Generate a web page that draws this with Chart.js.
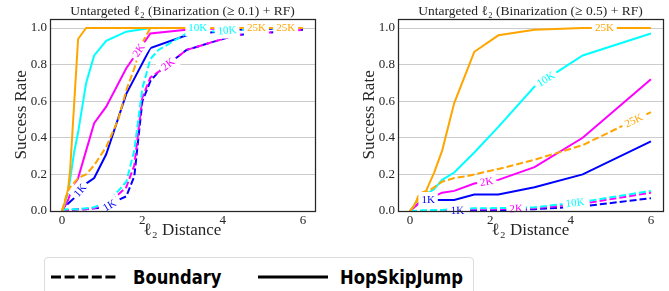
<!DOCTYPE html>
<html>
<head>
<meta charset="utf-8">
<script src="https://cdn.jsdelivr.net/npm/chart.js@4.4.1/dist/chart.umd.min.js"></script>
<style>
  html, body { margin: 0; padding: 0; background: #fff; }
  body { width: 669px; height: 291px; position: relative; overflow: hidden; }
  canvas { position: absolute; top: 0; }
  #chartA { left: 0; }
  #chartB { left: 330px; }
  .legend {
    position: absolute; left: 44px; top: 257px; width: 430px; height: 44px;
    border: 1px solid #dcdcdc; border-radius: 4px; box-sizing: border-box;
  }
  .legend svg { position: absolute; }
  .legend span {
    position: absolute; font-family: "DejaVu Sans", sans-serif; font-weight: bold;
    font-size: 19px; line-height: 19px; color: #000; white-space: nowrap;
    transform: scaleX(0.86); transform-origin: 0 0;
  }
</style>
</head>
<body>
<canvas id="chartA" width="330" height="245"></canvas>
<canvas id="chartB" width="339" height="245"></canvas>
<div class="legend">
  <svg style="left:5px; top:16px" width="70" height="6"><line x1="1" y1="3" x2="69" y2="3" stroke="#000" stroke-width="3" stroke-dasharray="10 3.6"/></svg>
  <span style="left:88px; top:10px">Boundary</span>
  <svg style="left:212px; top:16px" width="72" height="6"><line x1="1" y1="3" x2="71" y2="3" stroke="#000" stroke-width="3"/></svg>
  <span style="left:295px; top:10px">HopSkipJump</span>
</div>
<script>
// l2 distances where the success rate was measured
const hsjX = [0, 0.1, 0.15, 0.2, 0.3, 0.4, 0.6, 0.8, 1.1, 1.6, 2.2, 3.1, 4.3, 6.0];
const bndX = [0, 0.1, 0.2, 0.4, 0.6, 0.8, 1.1, 1.4, 1.6, 1.8, 2.0, 2.2, 2.4, 3.1, 4.3, 6.0];

const budgets = ['1K', '2K', '10K', '25K'];
const budgetColors = ['#0000ff', '#ff00ff', '#00ffff', '#ffa500'];

// Binarization (>= 0.1) + RF
const hsjA = [
  [0, 0.04, 0.04, 0.05, 0.07, 0.10, 0.15, 0.18, 0.31, 0.64, 0.89, 0.96, 0.99, 1.0],
  [0, 0.04, 0.06, 0.09, 0.13, 0.18, 0.33, 0.48, 0.57, 0.78, 0.97, 0.99, 1.0, 1.0],
  [0, 0.06, 0.10, 0.17, 0.32, 0.43, 0.70, 0.85, 0.93, 0.98, 1.0, 1.0, 1.0, 1.0],
  [0, 0.07, 0.12, 0.22, 0.58, 0.94, 1.0, 1.0, 1.0, 1.0, 1.0, 1.0, 1.0, 1.0]
];
const bndA = [
  [0, 0.0, 0.005, 0.01, 0.01, 0.015, 0.02, 0.06, 0.08, 0.19, 0.60, 0.71, 0.76, 0.88, 0.96, 0.99],
  [0, 0.0, 0.005, 0.01, 0.01, 0.015, 0.04, 0.09, 0.13, 0.25, 0.62, 0.73, 0.76, 0.88, 0.96, 0.99],
  [0, 0.01, 0.01, 0.01, 0.015, 0.02, 0.05, 0.11, 0.16, 0.33, 0.67, 0.83, 0.88, 0.97, 0.99, 1.0],
  [0, 0.08, 0.13, 0.18, 0.20, 0.25, 0.35, 0.50, 0.66, 0.78, 0.92, 1.0, 1.0, 1.0, 1.0, 1.0]
];

// Binarization (>= 0.5) + RF
const hsjB = [
  [0, 0.02, 0.03, 0.04, 0.05, 0.06, 0.06, 0.06, 0.06, 0.09, 0.09, 0.13, 0.20, 0.38],
  [0, 0.02, 0.03, 0.04, 0.06, 0.07, 0.08, 0.10, 0.11, 0.15, 0.17, 0.24, 0.40, 0.72],
  [0, 0.03, 0.05, 0.06, 0.08, 0.09, 0.12, 0.17, 0.21, 0.32, 0.46, 0.68, 0.85, 0.97],
  [0, 0.03, 0.05, 0.08, 0.10, 0.11, 0.21, 0.33, 0.59, 0.87, 0.96, 0.99, 1.0, 1.0]
];
const bndB = [
  [0, 0, 0, 0, 0, 0, 0.002, 0.003, 0.005, 0.005, 0.005, 0.005, 0.005, 0.01, 0.025, 0.07],
  [0, 0, 0, 0, 0.002, 0.003, 0.005, 0.008, 0.01, 0.01, 0.01, 0.01, 0.012, 0.015, 0.04, 0.10],
  [0, 0, 0.002, 0.004, 0.005, 0.006, 0.01, 0.012, 0.015, 0.015, 0.015, 0.016, 0.017, 0.02, 0.05, 0.11],
  [0, 0.03, 0.06, 0.10, 0.13, 0.16, 0.18, 0.19, 0.20, 0.21, 0.22, 0.23, 0.24, 0.28, 0.36, 0.54]
];

const xTicks = [0, 2, 4, 6];
const yTicks = [0, 0.2, 0.4, 0.6, 0.8, 1.0];
// where the inline line labels sit, in plotting order
const labelXs = [0.45, 1.18, 1.91, 2.64, 3.38, 4.11, 4.84, 5.57];

const SERIF = '"Liberation Serif", "DejaVu Serif", serif';

function pairs(xs, ys) {
  return xs.map((x, i) => ({ x: x, y: ys[i] }));
}

function buildDatasets(hsj, bnd) {
  const sets = [];
  budgets.forEach((b, k) => {
    sets.push({ data: pairs(hsjX, hsj[k]), tag: b, borderColor: budgetColors[k], borderDash: [] });
    sets.push({ data: pairs(bndX, bnd[k]), tag: b, borderColor: budgetColors[k], borderDash: [7, 3] });
  });
  return sets.map((s, i) => Object.assign(s, {
    labelX: labelXs[i],
    order: sets.length - i,
    borderWidth: 2,
    pointRadius: 0,
    tension: 0,
    fill: false
  }));
}

// inline labels on the lines (white box, rotated along the line)
const lineLabels = {
  id: 'lineLabels',
  afterDatasetsDraw(chart) {
    const { ctx } = chart;
    const xs = chart.scales.x, ys = chart.scales.y;
    chart.data.datasets.forEach(ds => {
      const pts = ds.data;
      let i = 1;
      while (i < pts.length - 1 && pts[i].x < ds.labelX) i++;
      const a = pts[i - 1], b = pts[i];
      const t = (ds.labelX - a.x) / (b.x - a.x);
      const yv = a.y + t * (b.y - a.y);
      const px = xs.getPixelForValue(ds.labelX), py = ys.getPixelForValue(yv);
      const ang = Math.atan2(ys.getPixelForValue(b.y) - ys.getPixelForValue(a.y),
                             xs.getPixelForValue(b.x) - xs.getPixelForValue(a.x));
      ctx.save();
      ctx.translate(px, py);
      ctx.rotate(ang);
      ctx.font = '11px ' + SERIF;
      const w = ctx.measureText(ds.tag).width;
      ctx.fillStyle = '#fff';
      ctx.fillRect(-w / 2 - 3, -8, w + 6, 16);
      ctx.fillStyle = ds.borderColor;
      ctx.textAlign = 'center';
      ctx.textBaseline = 'middle';
      ctx.fillText(ds.tag, 0, 0.5);
      ctx.restore();
    });
  },
  afterDraw(chart) {
    const { ctx, chartArea: ca } = chart;
    ctx.save();
    ctx.strokeStyle = '#262626';
    ctx.lineWidth = 1.25;
    ctx.strokeRect(Math.round(ca.left) + 0.5, Math.round(ca.top) + 0.5,
                   Math.round(ca.right - ca.left), Math.round(ca.bottom - ca.top));
    ctx.restore();
  }
};

function makeChart(id, title, hsj, bnd, padLeft, padRight) {
  return new Chart(document.getElementById(id), {
    type: 'line',
    data: { datasets: buildDatasets(hsj, bnd) },
    options: {
      responsive: false,
      animation: false,
      devicePixelRatio: 1,
      layout: { padding: { left: padLeft, right: padRight, top: 0, bottom: 0 } },
      plugins: {
        legend: { display: false },
        tooltip: { enabled: false },
        title: {
          display: true,
          text: title,
          fullSize: false,
          color: '#262626',
          font: { family: SERIF, size: 13.5, weight: 'normal', lineHeight: 1.1 },
          padding: { top: 4, bottom: 0 }
        }
      },
      scales: {
        x: {
          type: 'linear',
          min: -0.3,
          max: 6.3,
          afterBuildTicks: s => { s.ticks = xTicks.map(v => ({ value: v })); },
          afterFit: s => { s.height = 34; },
          grid: { display: false, drawTicks: false },
          border: { display: false },
          ticks: { color: '#262626', font: { family: SERIF, size: 13 }, padding: 2, maxRotation: 0,
                    callback: v => String(v) },
          title: { display: true, text: 'ℓ₂ Distance', color: '#262626',
                   font: { family: SERIF, size: 17 }, padding: { top: 0, bottom: 4 } }
        },
        y: {
          min: 0,
          max: 1.05,
          afterBuildTicks: s => { s.ticks = yTicks.map(v => ({ value: v })); },
          afterFit: s => { s.width = 50; },
          grid: { color: '#cccccc', lineWidth: 1, drawTicks: false },
          border: { display: false },
          ticks: { color: '#262626', font: { family: SERIF, size: 13 }, padding: 3,
                   callback: v => v.toFixed(1) },
          title: { display: true, text: 'Success Rate', color: '#262626',
                   font: { family: SERIF, size: 17 }, padding: { top: 11, bottom: 0 } }
        }
      }
    },
    plugins: [lineLabels]
  });
}

makeChart('chartA', 'Untargeted ℓ₂ (Binarization (≥ 0.1) + RF)', hsjA, bndA, 0, 15);
makeChart('chartB', 'Untargeted ℓ₂ (Binarization (≥ 0.5) + RF)', hsjB, bndB, 18, 6);
</script>
</body>
</html>
